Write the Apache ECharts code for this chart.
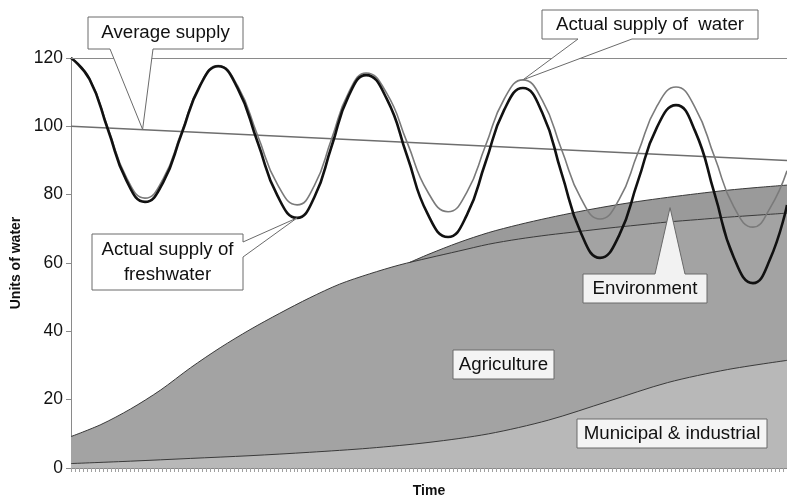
<!DOCTYPE html>
<html>
<head>
<meta charset="utf-8">
<script src="https://cdn.jsdelivr.net/npm/echarts@6/dist/echarts.min.js"></script>
<style>
  html, body { margin: 0; padding: 0; background: #fff; }
  #chart { width: 787px; height: 495px; }
</style>
</head>
<body>
<div id="chart"></div>
<script>
// time positions (x axis runs 0..180) where the supply curves were read
const supplyT = [0, 4.65, 9.3, 13.95, 18.6, 23.2, 27.8, 32.4, 37, 41.9, 46.9, 51.9, 56.85, 61.2, 65.5, 69.8, 74.2, 79.35,
    84.5, 89.6, 94.8, 99.5, 104.2, 108.9, 113.6, 118.5, 123.3, 128.2, 133, 137.8, 142.5, 147.3, 152.1, 156.9, 161.8,
    166.6, 171.45, 175.7, 180];
const freshwater = [120, 113.8, 99, 84.1, 77.9, 83.7, 97.8, 111.8, 117.6, 111.1, 95.4, 79.7, 73.2, 79.3, 94.1, 108.9, 115,
    108.1, 91.3, 74.5, 67.6, 74, 89.4, 104.8, 111.2, 103.9, 86.4, 68.8, 61.5, 68.1, 83.9, 99.7, 106.2, 98.6, 80.2, 61.7,
    54.1, 61, 77];
const totalWater = [120, 114, 99.5, 85, 79, 84.7, 98.4, 112.1, 117.8, 111.8, 97.4, 83, 77, 82.7, 96.3, 109.9, 115.6,
    109.7, 95.3, 81, 75, 80.7, 94.3, 108, 113.6, 107.6, 93.3, 78.9, 72.9, 78.6, 92.2, 105.9, 111.5, 105.5, 91, 76.5,
    70.5, 76, 87];
const avgT = [0, 180];
const avgSupply = [100, 90];

// demand layers, read as cumulative heights
const muniT = [0, 15, 30, 45, 60, 75, 90, 105, 120, 135, 150, 165, 180];
const municipal = [1.3, 2, 2.8, 3.6, 4.6, 5.8, 7.5, 10, 14, 19.5, 25, 28.8, 31.5];
const agriT = [0, 7.5, 15, 22.5, 30, 37.5, 45, 52.5, 60, 67.5, 75, 82.5, 90, 97.5, 105, 112.5, 120, 127.5, 135,
    142.5, 150, 157.5, 165, 172.5, 180];
const agriculture = [9.2, 12.7, 17.3, 22.8, 29.3, 35.2, 40.5, 45.3, 49.8, 53.8, 56.8, 59.4, 61.5, 63.5, 65.5, 67,
    68.2, 69.2, 70.2, 71.1, 72, 72.7, 73.4, 74, 74.6];
const envT = [85, 90, 97.5, 105, 112.5, 120, 127.5, 135, 142.5, 150, 157.5, 165, 172.5, 180];
const environment = [60.1, 62.6, 66, 68.9, 71.2, 73.2, 75, 76.6, 78, 79.2, 80.3, 81.3, 82.1, 82.8];

const yTicks = [0, 20, 40, 60, 80, 100, 120];

const pairs = (ts, vs) => ts.map((t, i) => [t, vs[i]]);
const font = 'Liberation Sans, Arial, sans-serif';

function areaSeries(name, ts, vs, color) {
    return {
        name: name, type: 'line', data: pairs(ts, vs), smooth: 0.3, symbol: 'none',
        lineStyle: { color: '#3a3a3a', width: 1 },
        areaStyle: { color: color, opacity: 1 }
    };
}

const chart = echarts.init(document.getElementById('chart'));
chart.setOption({
    animation: false,
    grid: { left: 71, right: 0, top: 58, bottom: 27, containLabel: false, outerBoundsMode: 'none' },
    xAxis: {
        type: 'value', min: 0, max: 180, interval: 1,
        name: 'Time', nameLocation: 'middle', nameGap: 16,
        nameTextStyle: { fontFamily: font, fontSize: 14, fontWeight: 'bold', color: '#111' },
        axisLine: { lineStyle: { color: '#8a8a8a' } },
        axisTick: { show: true, length: 4, lineStyle: { color: '#a0a0a0' } },
        axisLabel: { show: false },
        splitLine: { show: false }
    },
    yAxis: {
        type: 'value', min: 0, max: 120, interval: 20,
        name: 'Units of water', nameLocation: 'middle', nameGap: 45,
        nameTextStyle: { fontFamily: font, fontSize: 14, fontWeight: 'bold', color: '#111' },
        axisLine: { show: true, lineStyle: { color: '#8a8a8a' } },
        axisTick: { show: true, length: 5, lineStyle: { color: '#8a8a8a' } },
        axisLabel: { fontFamily: font, fontSize: 17.5, color: '#111', margin: 8,
            formatter: v => yTicks.includes(v) ? String(v) : '' },
        splitLine: { show: false }
    },
    series: [
        areaSeries('Environment', envT, environment, '#9a9a9a'),
        areaSeries('Agriculture', agriT, agriculture, '#a3a3a3'),
        areaSeries('Municipal & industrial', muniT, municipal, '#b8b8b8'),
        {
            name: 'Average supply', type: 'line', data: pairs(avgT, avgSupply), symbol: 'none',
            lineStyle: { color: '#6e6e6e', width: 1.5 },
            markLine: {
                silent: true, symbol: 'none', label: { show: false },
                lineStyle: { color: '#8a8a8a', width: 1, type: 'solid' },
                data: [{ yAxis: 120 }]
            }
        },
        {
            name: 'Actual supply of water', type: 'line', data: pairs(supplyT, totalWater), smooth: 0.5,
            symbol: 'none', lineStyle: { color: '#7a7a7a', width: 1.6 }
        },
        {
            name: 'Actual supply of freshwater', type: 'line', data: pairs(supplyT, freshwater), smooth: 0.5,
            symbol: 'none', lineStyle: { color: '#111', width: 2.6 }
        }
    ]
});

// callout boxes
const px = p => chart.convertToPixel('grid', p);
const tipAvg = px([18, 99.1]);
const tipWater = px([113.6, 113.6]);
const tipFresh = px([56.85, 73.2]);
const tipEnv = px([150.6, 76.2]);

function callout(points, fill) {
    return { type: 'polygon', z: 100, shape: { points: points },
        style: { fill: fill, stroke: '#6a6a6a', lineWidth: 1 } };
}
function label(text, x, y) {
    return { type: 'text', z: 101, style: { text: text, x: x, y: y, fill: '#111', font: '18.7px ' + font,
        align: 'center', verticalAlign: 'middle', lineHeight: 25 } };
}

chart.setOption({
    graphic: [
        callout([[88, 17], [243, 17], [243, 49], [153, 49], tipAvg, [110, 49], [88, 49]], '#fff'),
        label('Average supply', 165.5, 33),
        callout([[542, 10], [758, 10], [758, 39], [632, 39], tipWater, [578, 39], [542, 39]], '#fff'),
        label('Actual supply of  water', 650, 25),
        callout([[92, 234], [243, 234], [243, 242], tipFresh, [243, 257], [243, 290], [92, 290]], '#fff'),
        label('Actual supply of\nfreshwater', 167.5, 262),
        callout([[583, 274], [655, 274], tipEnv, [685, 274], [707, 274], [707, 303], [583, 303]], '#f2f2f2'),
        label('Environment', 645, 289),
        callout([[453, 350], [554, 350], [554, 379], [453, 379]], '#f4f4f4'),
        label('Agriculture', 503.5, 365),
        callout([[577, 419], [767, 419], [767, 448], [577, 448]], '#f4f4f4'),
        label('Municipal & industrial', 672, 434)
    ]
});
</script>
</body>
</html>
